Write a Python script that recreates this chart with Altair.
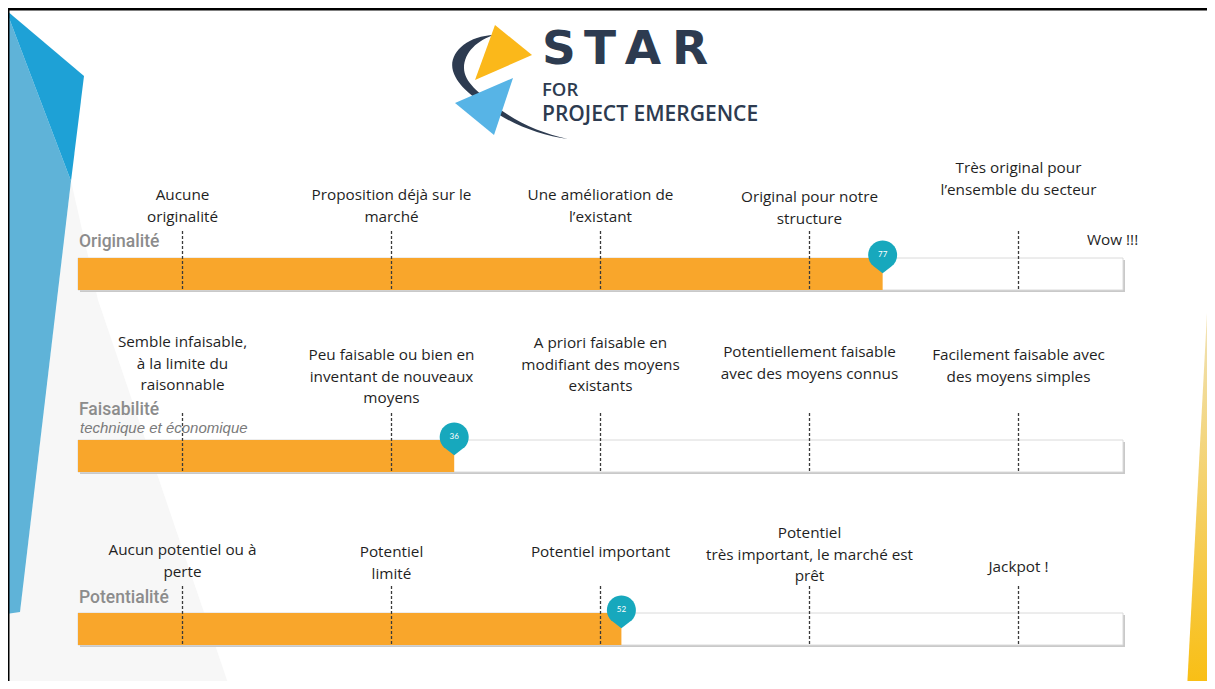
import altair as alt
import pandas as pd

# ---------------- data ----------------
ROWS = ["Originalité", "Faisabilité", "Potentialité"]
SUBTITLES = ["", "technique et économique", ""]
SCORES = [77, 36, 52]
SCALE_MIN = 0
SCALE_MAX = 100
TICKS = [10, 30, 50, 70, 90]
LEVEL_LABELS = [
    ["Aucune\noriginalité",
     "Proposition déjà sur le\nmarché",
     "Une amélioration de\nl\u2019existant",
     "Original pour notre\nstructure",
     "Très original pour\nl\u2019ensemble du secteur"],
    ["Semble infaisable,\nà la limite du\nraisonnable",
     "Peu faisable ou bien en\ninventant de nouveaux\nmoyens",
     "A priori faisable en\nmodifiant des moyens\nexistants",
     "Potentiellement  faisable\navec des moyens connus",
     "Facilement faisable avec\ndes moyens simples"],
    ["Aucun potentiel  ou à\nperte",
     "Potentiel\nlimité",
     "Potentiel important",
     "Potentiel\ntrès important, le marché est\nprêt",
     "Jackpot !"],
]
EXTRA_LABELS = ["Wow !!!"]
EXTRA_AT = [99]
EXTRA_ROW = [0]
LOGO_WORD = ["S", "T", "A", "R"]
LOGO_LINE1 = "FOR"
LOGO_LINE2 = "PROJECT EMERGENCE"

# ---------------- layout (pixels) ----------------
W, H = 1199, 673
OFF = 8                      # page margin
X0_PX, X100_PX = 70, 1115    # where 0 and 100 fall in the plot
K = (X100_PX - X0_PX) / (SCALE_MAX - SCALE_MIN)
XDOM = [SCALE_MIN - X0_PX / K, SCALE_MIN + (W - X0_PX) / K]
XS = alt.Scale(domain=XDOM, nice=False, zero=False)

BAR_TOP = [250, 432, 605]
BAR_H = 32
TICK_RISE = 27
TITLE_Y = [234, 402, 590]
SUB_Y = [0, 420, 0]
LABEL_Y = [[187, 187, 187, 189, 160],
           [334, 347, 335, 344, 347],
           [542, 544, 544, 525, 559]]
EXTRA_Y = [232]
LOGO_X = [559, 600, 643, 690]

ORANGE = "#f9a62b"
TEAL = "#17a8bd"
NAVY = "#2d3b50"

# ---------------- tables ----------------
rows_df = pd.DataFrame({
    "row": ROWS, "score": SCORES, "lo": SCALE_MIN, "hi": SCALE_MAX,
    "top": BAR_TOP, "bottom": [t + BAR_H for t in BAR_TOP],
    "pin_y": [t - 3 for t in BAR_TOP], "title_y": TITLE_Y,
    "sub": SUBTITLES, "sub_y": SUB_Y,
})
rows_df["score_txt"] = rows_df["score"].astype(str)

tick_rec, lab_rec = [], []
for r in range(len(ROWS)):
    for i, t in enumerate(TICKS):
        tick_rec.append({"x": t, "top": BAR_TOP[r] - TICK_RISE, "bottom": BAR_TOP[r] + BAR_H})
        lab_rec.append({"x": t, "y": LABEL_Y[r][i] - 7, "text": LEVEL_LABELS[r][i]})
for j, txt in enumerate(EXTRA_LABELS):
    lab_rec.append({"x": EXTRA_AT[j], "y": EXTRA_Y[j] - 7, "text": txt})
ticks_df = pd.DataFrame(tick_rec)
labels_df = pd.DataFrame(lab_rec)
sub_df = rows_df[rows_df["sub"] != ""]
logo_df = pd.DataFrame({"ch": LOGO_WORD, "px": [x - OFF for x in LOGO_X]})

one = pd.DataFrame({"k": [0]})


def p(x, y):
    return f"{x - OFF:.1f} {y - OFF:.1f}"


def poly(pts):
    return "M" + " L".join(p(x, y) for x, y in pts) + " Z"


def deco(path, fill):
    return alt.Chart(one).mark_point(
        shape=path, filled=True, fill=fill, opacity=1, size=4, strokeWidth=0
    ).encode(x=alt.value(0), y=alt.value(0))


# ---------------- decorations ----------------
GREY_AREA = poly([(71, 181), (98, 300), (230, 689), (8, 689), (8, 612), (20, 612)])
LIGHT_BLUE = poly([(6, 10), (71, 181), (20, 612), (6, 614)])
DARK_BLUE = poly([(6, 10), (84, 76), (71, 181)])
YELLOW = poly([(1213, 200), (1187, 689), (1220, 689), (1220, 200)])
SWOOSH = (f"M{p(494,35)} C{p(466,36)} {p(448,54)} {p(453,71)} C{p(458,87)} {p(474,97)} {p(490,109)} "
          f"C{p(510,123)} {p(540,136)} {p(568,139)} C{p(540,133)} {p(514,121)} {p(496,106)} "
          f"C{p(479,93)} {p(464,82)} {p(464,68)} C{p(464,52)} {p(478,40)} {p(494,35)} Z")
TRI_Y = poly([(495, 25), (532, 55), (475, 80)])
TRI_B = poly([(513, 78), (455, 103), (494, 135)])
PIN = "M 0 1.25 L -0.6 0.8 A 1 1 0 1 1 0.6 0.8 Z"

yellow_grad = alt.LinearGradient(
    gradient="linear", x1=0, x2=0, y1=0, y2=1,
    stops=[alt.GradientStop(color="#fdfaf0", offset=0),
           alt.GradientStop(color="#f1dfa8", offset=0.3),
           alt.GradientStop(color="#f9be12", offset=1)])

layers = [
    deco(GREY_AREA, "#f7f7f7"),
    deco(LIGHT_BLUE, "#5fb3d8"),
    deco(DARK_BLUE, "#1ea1d6"),
    deco(YELLOW, yellow_grad),
    alt.Chart(one).mark_rule(color="black", strokeWidth=2.4).encode(
        x=alt.value(0), x2=alt.value(W), y=alt.value(1.2)),
    alt.Chart(one).mark_rule(color="black", strokeWidth=2).encode(
        x=alt.value(0.5), y=alt.value(0), y2=alt.value(H)),
    deco(SWOOSH, NAVY),
    deco(TRI_Y, "#fbb81a"),
    deco(TRI_B, "#57b4e6"),
    alt.Chart(logo_df).mark_text(font="DejaVu Sans", fontWeight="bold", fontSize=47, color=NAVY,
                                 align="center", baseline="alphabetic").encode(
        x=alt.X("px:Q", scale=None), y=alt.value(56), text="ch:N"),
    alt.Chart(one).mark_text(text=LOGO_LINE1, font="Open Sans", fontWeight=600, fontSize=18.5,
                             color=NAVY, align="left", baseline="alphabetic").encode(
        x=alt.value(534), y=alt.value(88)),
    alt.Chart(one).mark_text(text=LOGO_LINE2, font="Open Sans", fontWeight=600, fontSize=21,
                             color=NAVY, align="left", baseline="alphabetic").encode(
        x=alt.value(534), y=alt.value(113)),
    # bars
    alt.Chart(rows_df).mark_rect(fill="#c9c9c9", xOffset=2, x2Offset=2, yOffset=2, y2Offset=2).encode(
        x=alt.X("lo:Q", scale=XS, axis=None), x2="hi:Q",
        y=alt.Y("top:Q", scale=None), y2="bottom:Q"),
    alt.Chart(rows_df).mark_rect(fill="white", stroke="#dadada", strokeWidth=1).encode(
        x=alt.X("lo:Q", scale=XS, axis=None), x2="hi:Q",
        y=alt.Y("top:Q", scale=None), y2="bottom:Q"),
    alt.Chart(rows_df).mark_rect(fill=ORANGE).encode(
        x=alt.X("lo:Q", scale=XS, axis=None), x2="score:Q",
        y=alt.Y("top:Q", scale=None), y2="bottom:Q"),
    alt.Chart(ticks_df).mark_rule(color="#3a3a3a", strokeWidth=1.3, strokeDash=[3, 2]).encode(
        x=alt.X("x:Q", scale=XS, axis=None),
        y=alt.Y("top:Q", scale=None), y2="bottom:Q"),
    alt.Chart(labels_df).mark_text(font="Open Sans", fontSize=15.3, color="#1f1f1f", align="center",
                                   baseline="top", lineBreak="\n", lineHeight=21.5).encode(
        x=alt.X("x:Q", scale=XS, axis=None), y=alt.Y("y:Q", scale=None), text="text:N"),
    alt.Chart(rows_df).mark_text(font="Roboto", fontWeight=500, fontSize=17.5, color="#8c8c8c",
                                 align="left", baseline="middle").encode(
        x=alt.value(71), y=alt.Y("title_y:Q", scale=None), text="row:N"),
    alt.Chart(sub_df).mark_text(font="Liberation Sans", fontStyle="italic", fontSize=15, color="#7a7a7a",
                                align="left", baseline="middle").encode(
        x=alt.value(72), y=alt.Y("sub_y:Q", scale=None), text="sub:N"),
    alt.Chart(rows_df).mark_point(shape=PIN, filled=True, fill=TEAL, opacity=1, size=841,
                                  strokeWidth=0).encode(
        x=alt.X("score:Q", scale=XS, axis=None), y=alt.Y("pin_y:Q", scale=None)),
    alt.Chart(rows_df).mark_text(font="Lato", fontSize=8, color="white", align="center",
                                 baseline="middle").encode(
        x=alt.X("score:Q", scale=XS, axis=None), y=alt.Y("pin_y:Q", scale=None), text="score_txt:N"),
]

chart = alt.layer(*layers).properties(
    width=W, height=H, padding=0, background="white",
    autosize=alt.AutoSizeParams(type="none"),
).configure_view(stroke=None)

chart.save("out.html", embed_options={"renderer": "svg", "actions": False})
